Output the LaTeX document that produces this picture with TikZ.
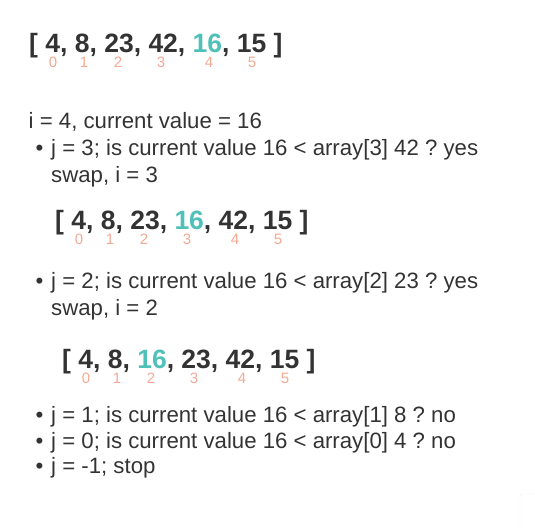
\documentclass[tikz,border=0pt]{standalone}
\usepackage{fontspec}
\setmainfont{Liberation Sans}
\frenchspacing
\definecolor{ink}{HTML}{333333}
\definecolor{hilite}{HTML}{4FC1B9}
\definecolor{index}{HTML}{F5A892}
\tikzset{
  txt/.style={anchor=base west,inner sep=0pt,text=ink,font=\fontsize{22.2}{26}\selectfont},
  arr/.style={anchor=base west,inner sep=0pt,text depth=0pt,text=ink,font=\fontsize{26.5}{30}\selectfont\bfseries},
  idx/.style={anchor=base,inner sep=0pt,text=index,font=\fontsize{15}{18}\selectfont},
  dot/.style={anchor=base,inner sep=0pt,text=ink,font=\fontsize{22.2}{26}\selectfont}
}
\newcommand{\hl}[1]{\textcolor{hilite}{#1}}
\begin{document}
\begin{tikzpicture}[x=1pt,y=-1pt]
\useasboundingbox(0,0)rectangle(535,528);
% arrays with indices
\node[arr](a1)at(29,52){[ 4, 8, 23, 42, \hl{16}, 15 ]};
\node[arr](a2)at(55,229){[ 4, 8, 23, \hl{16}, 42, 15 ]};
\node[arr](a3)at(62,368){[ 4, 8, \hl{16}, 23, 42, 15 ]};
\foreach \a in {a1,a2,a3}
  \foreach \k/\dx in {0/24,1/55,2/89,3/132,4/180,5/223}
    \node[idx](\a-\k)at([shift={(\dx,15.5)}]\a.base west){\k};
% steps
\node[txt](start)at(28.5,128){i = 4, current value = 16};
\node[txt](s1)at(51,155){j = 3; is current value 16 < array[3] 42 ? yes};
\node[txt](w1)at(51,182){swap, i = 3};
\node[txt](s2)at(51,288){j = 2; is current value 16 < array[2] 23 ? yes};
\node[txt](w2)at(51,315){swap, i = 2};
\node[txt](s3)at(51,422){j = 1; is current value 16 < array[1] 8 ? no};
\node[txt](s4)at(51,448){j = 0; is current value 16 < array[0] 4 ? no};
\node[txt](s5)at(51,473){j = -1; stop};
\foreach \s in {s1,s2,s3,s4,s5}
  \node[dot]at([xshift=-11.5pt]\s.base west){•};
\draw[black!7,rounded corners=2pt](520,528)|-(535,494);
\end{tikzpicture}
\end{document}
